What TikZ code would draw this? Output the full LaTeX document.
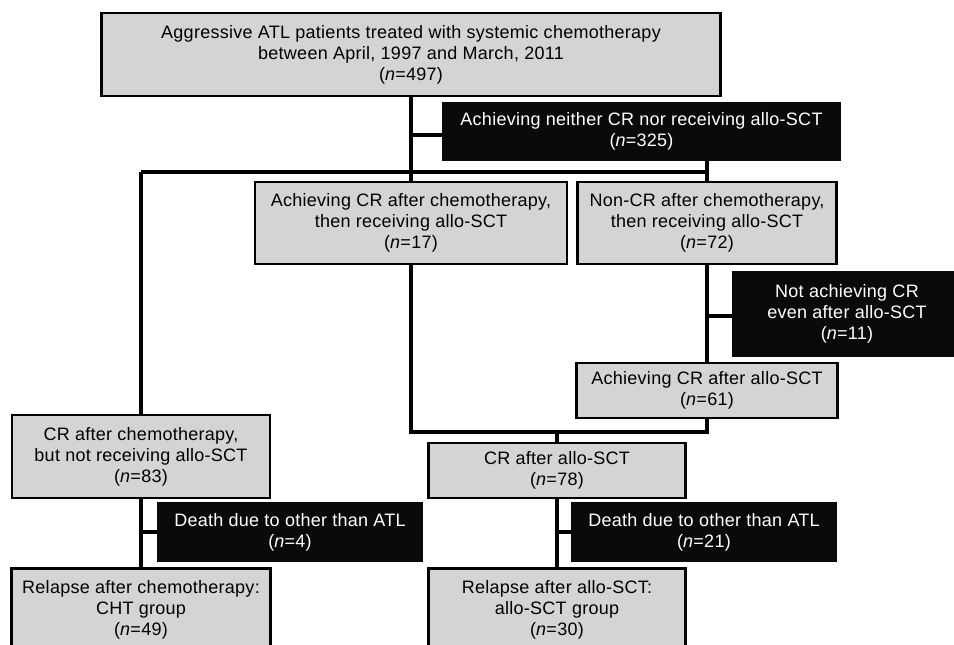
\documentclass[tikz,border=0pt]{standalone}
\usepackage{fontspec}
\setmainfont{Liberation Sans}[LetterSpace=1.5]
\usepackage{tikz}
\usetikzlibrary{positioning, calc, backgrounds}
\definecolor{fgray}{HTML}{D4D4D4}
\definecolor{fblack}{HTML}{0A0A0A}
\tikzset{
  gbox/.style={draw=black, fill=fgray, line width=1.8pt, inner sep=0pt,
               align=center, font=\fontsize{13.5}{15.75}\selectfont},
  bbox/.style={draw=fblack, fill=fblack, text=white, line width=1.8pt, inner sep=0pt,
               align=center, font=\fontsize{13.5}{15.75}\selectfont},
  conn/.style={line width=2.7pt, black},
}
\newcommand{\nn}[1]{(\textit{n}=#1)}

\begin{document}
\begin{tikzpicture}[x=0.75pt, y=-0.75pt]
  \useasboundingbox (0,0) rectangle (954,645);
  % Whole cohort
  \node[gbox, minimum width=464pt, minimum height=62pt] (src) at (411, 54.5)
    {Aggressive ATL patients treated with systemic chemotherapy\\between April, 1997 and March, 2011\\\nn{497}};
  \node[bbox, minimum width=298pt, minimum height=43pt] (neither) at (641.5, 131.5)
    {Achieving neither CR nor receiving allo-SCT\\\nn{325}};
  % Second row
  \node[gbox, minimum width=234pt, minimum height=61.5pt] (crchemo) at (411, 223)
    {Achieving CR after chemotherapy,\\then receiving allo-SCT\\\nn{17}};
  \node[gbox, minimum width=194pt, minimum height=61.5pt] (noncr) at (707, 223)
    {Non-CR after chemotherapy,\\then receiving allo-SCT\\\nn{72}};
  \node[bbox, minimum width=170pt, minimum height=63pt] (notcr) at (847, 314)
    {Not achieving CR\\even after allo-SCT\\\nn{11}};
  \node[gbox, minimum width=196pt, minimum height=41pt] (crafter) at (707, 390.5)
    {Achieving CR after allo-SCT\\\nn{61}};
  % CR groups
  \node[gbox, minimum width=193.5pt, minimum height=62pt] (crnoallo) at (141, 456.5)
    {CR after chemotherapy,\\but not receiving allo-SCT\\\nn{83}};
  \node[gbox, minimum width=193pt, minimum height=41pt] (crallo) at (557, 470.5)
    {CR after allo-SCT\\\nn{78}};
  % Deaths
  \node[bbox, minimum width=198pt, minimum height=43.5pt] (death1) at (290, 532)
    {Death due to other than ATL\\\nn{4}};
  \node[bbox, minimum width=198pt, minimum height=43.5pt] (death2) at (704, 532)
    {Death due to other than ATL\\\nn{21}};
  % Relapse groups
  \node[gbox, minimum width=194pt, minimum height=62pt] (relcht) at (141, 610)
    {Relapse after chemotherapy:\\CHT group\\\nn{49}};
  \node[gbox, minimum width=193pt, minimum height=62pt] (relallo) at (557, 610)
    {Relapse after allo-SCT:\\allo-SCT group\\\nn{30}};
  % Connectors
  \begin{pgfonlayer}{background}
    \coordinate (split) at (0, 172);
    \coordinate (merge) at (0, 432);
    \draw[conn] (src.south) -- (crchemo.north);
    \draw[conn] (src.south |- 0,135) -- (neither.west |- 0,135);
    \draw[conn] (crnoallo.north |- split) -- (noncr.north |- split);
    \draw[conn] (crnoallo.north |- split) -- (crnoallo.north);
    \draw[conn] (noncr.north |- neither.south) -- (noncr.north);
    \draw[conn] (noncr.south) -- (crafter.north);
    \draw[conn] (noncr.south |- 0,316) -- (notcr.west |- 0,316);
    \draw[conn] (crchemo.south) -- (crchemo.south |- merge) -- (crafter.south |- merge) -- (crafter.south);
    \draw[conn] (crallo.north |- merge) -- (crallo.north);
    \draw[conn] (crnoallo.south) -- (relcht.north);
    \draw[conn] (crnoallo.south |- death1.west) -- (death1.west);
    \draw[conn] (crallo.south) -- (relallo.north);
    \draw[conn] (crallo.south |- death2.west) -- (death2.west);
  \end{pgfonlayer}
\end{tikzpicture}
\end{document}
